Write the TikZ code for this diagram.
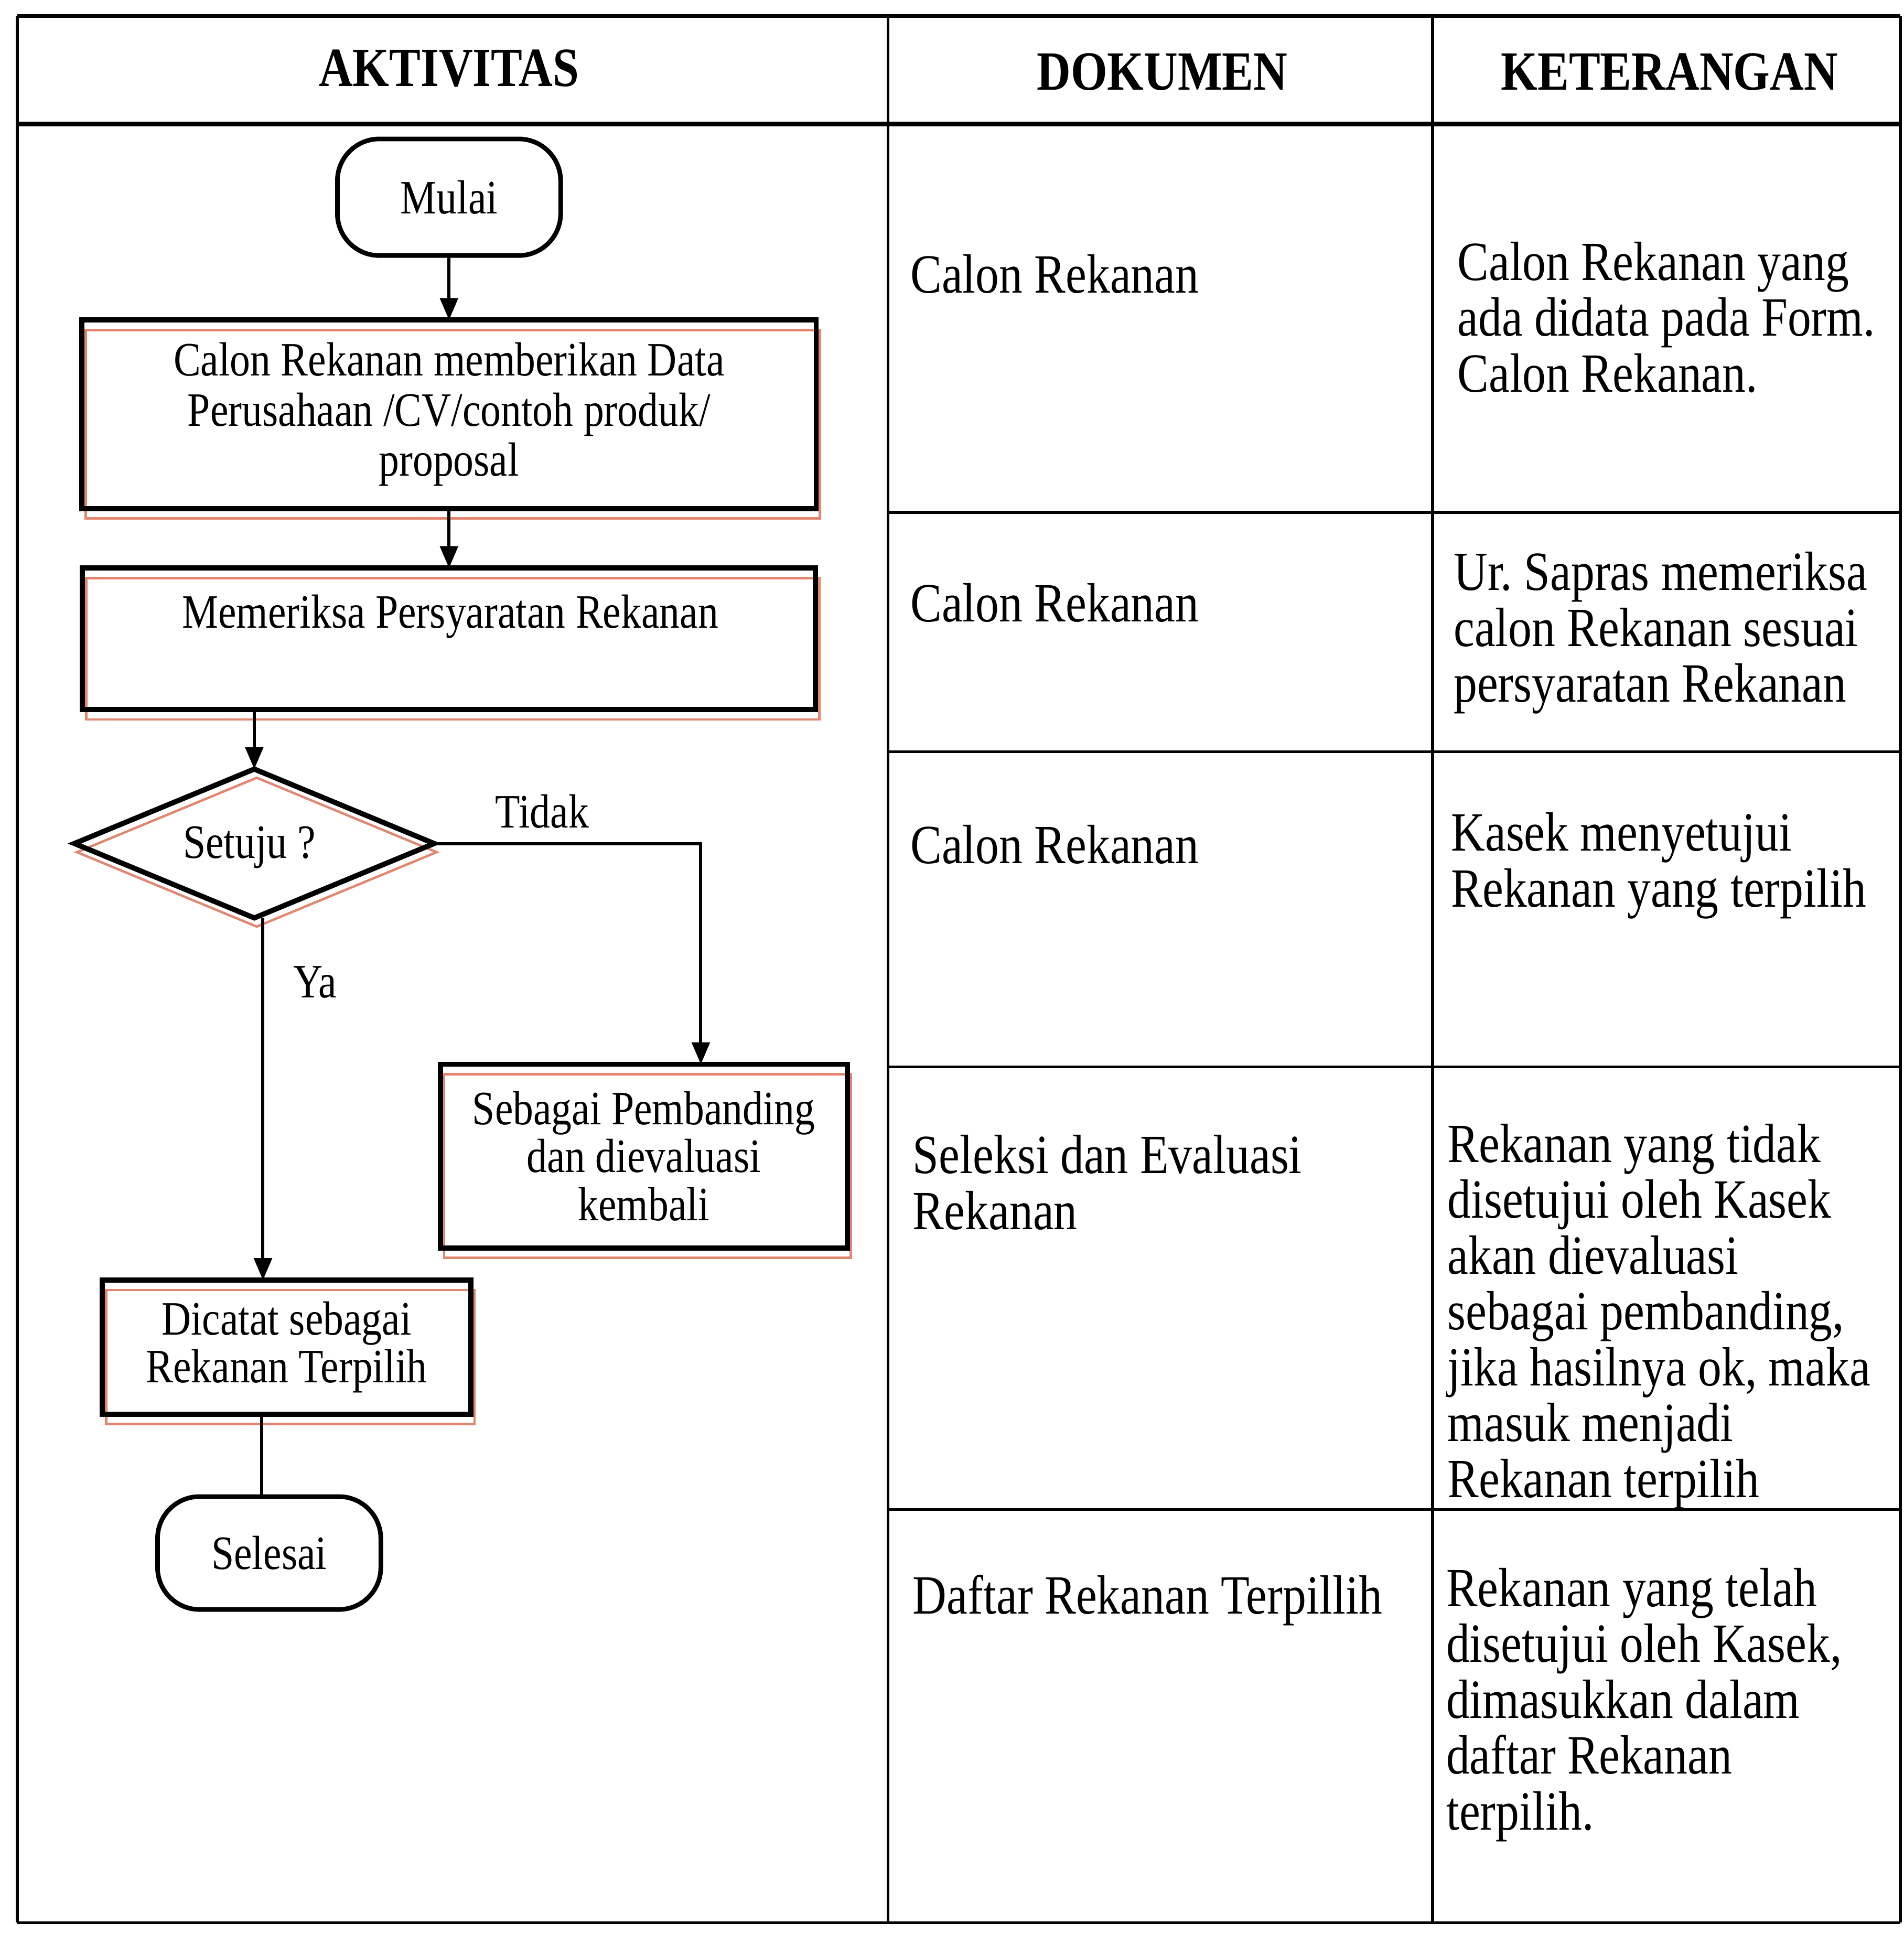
\documentclass[tikz,border=0pt]{standalone}
\usepackage{fontspec}
\setmainfont{Liberation Serif}[FakeStretch=0.85]
\usetikzlibrary{shapes.geometric,arrows.meta,calc,backgrounds}
\newdimen\ux \ux=0.023655cm
\definecolor{edgetint}{RGB}{226,134,112}
\newcommand\flowfont{\fontsize{26pt}{26pt}\selectfont}
\newcommand\bodyfont{\fontsize{30pt}{30.3pt}\selectfont}
\newcommand\headfont{\fontsize{30pt}{30pt}\selectfont\bfseries}
\frenchspacing

\begin{document}
\begin{tikzpicture}[x={(0.023655cm,0cm)}, y={(0cm,-0.023655cm)},
  every node/.style={inner sep=0pt, outer sep=0pt},
  tablerule/.style={line width=1.5pt},
  headrule/.style={line width=2.6pt},
  procbox/.style={draw, line width=2.8pt, rectangle, align=center, font=\flowfont},
  termbox/.style={draw, line width=2.5pt, rectangle, rounded corners=0.8cm, font=\flowfont},
  decbox/.style={draw, line width=2.8pt, diamond, aspect=2.4, font=\flowfont},
  flowtext/.style={font=\flowfont},
  bodytext/.style={font=\bodyfont, align=left, anchor=base west},
  headtext/.style={font=\headfont},
  connector/.style={line width=1.7pt},
  arrowline/.style={connector, -{Triangle[length=0.42cm,width=0.34cm]}},
  edgeline/.style={draw=edgetint, line width=1.3pt}
]
\begin{scope}[on background layer]
  \fill[white] (0,0) rectangle (1535,1568);
\end{scope}
\useasboundingbox (0,0) rectangle (1535,1568);

% table grid
\draw[line width=2pt] (14,13) -- (1532,13);
\draw[tablerule] (14,13) -- (14,1550);
\draw[tablerule] (1532,13) -- (1532,1550);
\draw[tablerule] (14,1550) -- (1532,1550);
\draw[headrule] (14,100) -- (1532,100);
\draw[tablerule] (716,13) -- (716,1550);
\draw[tablerule] (1155,13) -- (1155,1550);
\foreach \yy in {413,606,860,1217}
  \draw[tablerule] (716,\yy) -- (1532,\yy);

% column headings
\node[headtext] (hAkt) at (362,55) {AKTIVITAS};
\node[headtext] (hDok) at (937,58) {DOKUMEN};
\node[headtext] (hKet) at (1346,58) {KETERANGAN};

% document column (anchored at the baseline of the last line)
\node[bodytext] (doc1) at (734,236) {Calon Rekanan};
\node[bodytext] (doc2) at (734,501) {Calon Rekanan};
\node[bodytext] (doc3) at (734,696) {Calon Rekanan};
\node[bodytext] (doc4) at (736,991) {Seleksi dan Evaluasi\\Rekanan};
\node[bodytext] (doc5) at (736,1301) {Daftar Rekanan Terpillih};

% remarks column (anchored at the baseline of the last line)
\node[bodytext] (ket1) at (1175,316) {Calon Rekanan yang\\ada didata pada Form.\\Calon Rekanan.};
\node[bodytext] (ket2) at (1172,566) {Ur. Sapras memeriksa\\calon Rekanan sesuai\\persyaratan Rekanan};
\node[bodytext] (ket3) at (1170,731) {Kasek menyetujui\\Rekanan yang terpilih};
\node[bodytext] (ket4) at (1167,1207) {Rekanan yang tidak\\disetujui oleh Kasek\\akan dievaluasi\\sebagai pembanding,\\jika hasilnya ok, maka\\masuk menjadi\\Rekanan terpilih};
\node[bodytext] (ket5) at (1166,1475) {Rekanan yang telah\\disetujui oleh Kasek,\\dimasukkan dalam\\daftar Rekanan\\terpilih.};

% flowchart
\node[termbox, minimum width=180*\ux, minimum height=94*\ux] (start) at (362,159) {Mulai};
\node[procbox, minimum width=592*\ux, minimum height=152*\ux,
      font=\fontsize{26pt}{27.2pt}\selectfont] (p1) at (362,334)
  {Calon Rekanan memberikan Data\\Perusahaan /CV/contoh produk/\\proposal};
\node[procbox, minimum width=591*\ux, minimum height=114*\ux] (p2) at (362,515) {};
\node[flowtext] (p2txt) at (363,497) {Memeriksa Persyaratan Rekanan};
\node[decbox, minimum width=290*\ux, minimum height=120*\ux] (dec) at (205,680) {};
\node[flowtext] (dectxt) at (201,683) {Setuju ?};
\node[procbox, minimum width=328*\ux, minimum height=148*\ux] (p3) at (519,932)
  {Sebagai Pembanding\\dan dievaluasi\\kembali};
\node[procbox, minimum width=297*\ux, minimum height=108*\ux] (p4) at (231,1086)
  {Dicatat sebagai\\Rekanan Terpilih};
\node[termbox, minimum width=180*\ux, minimum height=91*\ux] (end) at (217,1252) {Selesai};

\node[flowtext] (lblNo) at (437,654) {Tidak};
\node[flowtext] (lblYes) at (254,792) {Ya};

% connectors
\draw[arrowline] (start) -- (p1);
\draw[arrowline] (p1) -- (p2);
\draw[arrowline] (p2.south -| dec.north) -- (dec.north);
\draw[arrowline] (dec.east) -| ([xshift=46*\ux]p3.north);
\draw[arrowline] ([xshift=7*\ux]dec.south) -- ([xshift=7*\ux]dec.south |- p4.north);
\draw[connector] ([xshift=-6*\ux]p4.south -| end.north) -- ([xshift=-6*\ux]end.north);

% tinted offset outlines behind the process shapes
\begin{scope}[on background layer]
  \foreach \n in {p1,p2,p3,p4}
    \draw[edgeline] ($(\n.north west)+(3,8)$) rectangle ($(\n.south east)+(3,8)$);
  \draw[edgeline] ($(dec.west)+(2,7)$) -- ($(dec.north)+(2,7)$) -- ($(dec.east)+(2,7)$)
    -- ($(dec.south)+(2,7)$) -- cycle;
\end{scope}
\end{tikzpicture}
\end{document}
